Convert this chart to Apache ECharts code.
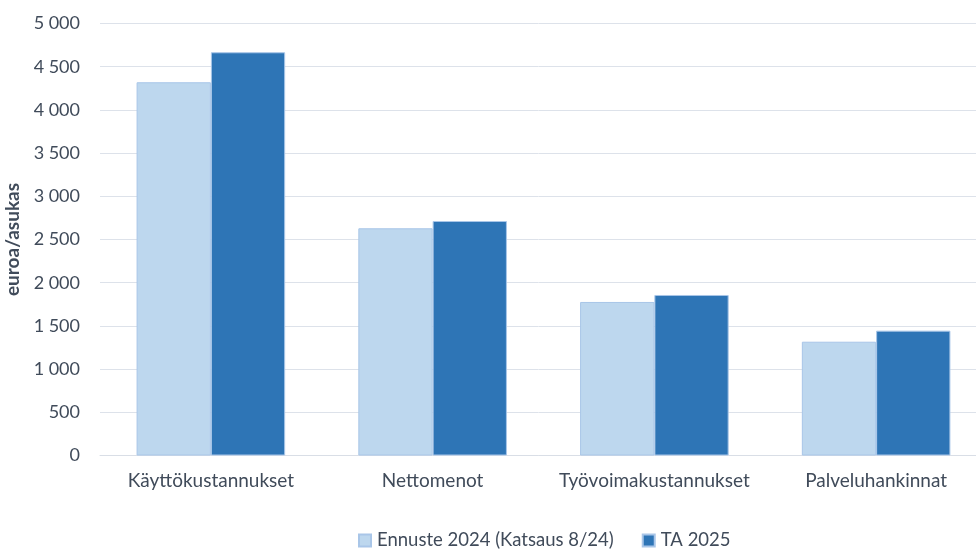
<!DOCTYPE html>
<html>
<head>
<meta charset="utf-8">
<script src="https://cdn.jsdelivr.net/npm/echarts@6/dist/echarts.min.js"></script>
<style>
html,body{margin:0;padding:0;background:#fff;overflow:hidden;}
#chart{width:976px;height:549px;}
</style>
</head>
<body>
<div id="chart"></div>
<script>
const categories = ['Käyttökustannukset', 'Nettomenot', 'Työvoimakustannukset', 'Palveluhankinnat'];
const seriesNames = ['Ennuste 2024 (Katsaus 8/24)', 'TA 2025'];
const ennuste2024 = [4320, 2630, 1777, 1317];
const ta2025 = [4667, 2714, 1858, 1445];
const yAxisName = 'euroa/asukas';

const font = 'Lato, "Open Sans", sans-serif';
const textColor = '#404b5a';

const chart = echarts.init(document.getElementById('chart'));
chart.setOption({
  animation: false,
  textStyle: { fontFamily: font },
  grid: { left: 100, width: 887, top: 23.5, bottom: 93.5, containLabel: false, outerBoundsMode: 'none' },
  legend: {
    top: 526,
    left: 353,
    itemWidth: 12,
    itemHeight: 12,
    itemGap: 28,
    icon: 'rect',
    textStyle: { fontSize: 18.5, color: textColor, fontFamily: font, padding: [0, 0, 0, 1] },
    data: seriesNames
  },
  xAxis: {
    type: 'category',
    data: categories,
    axisLine: { lineStyle: { color: '#d9dee6', width: 1 } },
    axisTick: { show: false },
    axisLabel: { interval: 0, fontSize: 19, color: textColor, margin: 16, fontFamily: font, hideOverlap: false }
  },
  yAxis: {
    type: 'value',
    min: 0,
    max: 5000,
    interval: 500,
    name: yAxisName,
    nameLocation: 'middle',
    nameGap: 74,
    nameTextStyle: { fontSize: 19, fontWeight: 'bold', color: textColor, fontFamily: font },
    axisLine: { show: false },
    axisTick: { show: false },
    splitLine: { lineStyle: { color: '#dde2ea', width: 1 } },
    axisLabel: {
      fontSize: 18, color: textColor, margin: 20, fontFamily: font,
      formatter: v => String(v).replace(/\B(?=(\d{3})+(?!\d))/g, ' ')
    }
  },
  series: [
    {
      name: seriesNames[0], type: 'bar', data: ennuste2024,
      barGap: '0%', barCategoryGap: '33%',
      itemStyle: { color: '#bdd7ee', borderColor: '#a9c6e8', borderWidth: 1 }
    },
    {
      name: seriesNames[1], type: 'bar', data: ta2025,
      itemStyle: { color: '#2e75b6', borderColor: '#a9c6e8', borderWidth: 1 }
    }
  ]
});
</script>
</body>
</html>
